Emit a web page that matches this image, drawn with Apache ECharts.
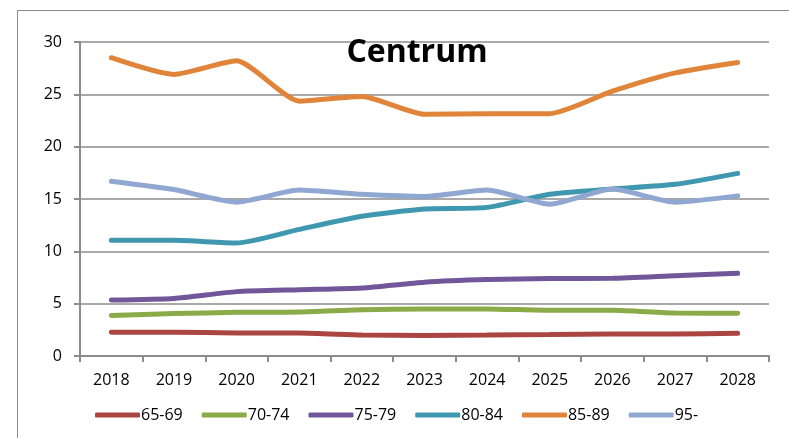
<!DOCTYPE html>
<html>
<head>
<meta charset="utf-8">
<script src="https://cdn.jsdelivr.net/npm/echarts@6/dist/echarts.min.js"></script>
<style>
  html, body { margin: 0; padding: 0; background: #fff; }
  #chart { width: 789px; height: 438px; }
  #frame { position: absolute; left: 17px; top: 10px; width: 800px; height: 500px; border: 1px solid #8c8c8c; box-sizing: border-box; pointer-events: none; }
</style>
</head>
<body>
<div id="chart"></div>
<div id="frame"></div>
<script>
// years on the x axis
const years = ['2018', '2019', '2020', '2021', '2022', '2023', '2024', '2025', '2026', '2027', '2028'];

// age groups
const age6569 = [2.26, 2.28, 2.2, 2.2, 2.0, 1.97, 2.0, 2.05, 2.1, 2.1, 2.17];
const age7074 = [3.88, 4.05, 4.17, 4.2, 4.42, 4.5, 4.5, 4.37, 4.37, 4.1, 4.08];
const age7579 = [5.35, 5.5, 6.15, 6.33, 6.5, 7.05, 7.3, 7.4, 7.42, 7.67, 7.9];
const age8084 = [11.05, 11.05, 10.8, 12.1, 13.35, 14.05, 14.2, 15.45, 15.95, 16.4, 17.45];
const age8589 = [28.5, 26.9, 28.2, 24.35, 24.8, 23.1, 23.15, 23.15, 25.3, 27.05, 28.05];
const age95 = [16.7, 15.9, 14.7, 15.85, 15.45, 15.25, 15.85, 14.5, 15.95, 14.7, 15.3];

const names = ['65-69', '70-74', '75-79', '80-84', '85-89', '95-'];
const colors = ['#ab4542', '#8aab48', '#71579a', '#3f98b0', '#e0843a', '#8fa7d1'];
const values = [age6569, age7074, age7579, age8084, age8589, age95];

const chart = echarts.init(document.getElementById('chart'));

const series = names.map((name, i) => ({
  name: name,
  type: 'line',
  data: values[i],
  smooth: 0.2,
  showSymbol: false,
  symbol: 'none',
  lineStyle: { width: 5, color: colors[i], cap: 'round' },
  itemStyle: { color: colors[i] }
}));

chart.setOption({
  animation: false,
  textStyle: { fontFamily: 'Open Sans' },
  title: {
    text: 'Centrum',
    left: 412,
    top: 32,
    textAlign: 'center',
    textStyle: { fontSize: 32, fontWeight: 'bold', color: '#000', fontFamily: 'Open Sans' }
  },
  legend: {
    data: names,
    left: 90,
    top: 402,
    icon: 'roundRect',
    itemWidth: 45,
    itemHeight: 5,
    itemGap: 19,
    textStyle: { fontSize: 16, color: '#000', padding: [0, 0, 0, -4] }
  },
  grid: { left: 80, right: 20, top: 42, bottom: 82 },
  xAxis: {
    type: 'category',
    data: years,
    boundaryGap: true,
    axisLine: { lineStyle: { color: '#8c8c8c', width: 2 } },
    axisTick: { show: true, length: 6, alignWithLabel: false, lineStyle: { color: '#8c8c8c', width: 2 } },
    axisLabel: { fontSize: 16, color: '#000', margin: 16 }
  },
  yAxis: {
    type: 'value',
    min: 0,
    max: 30,
    interval: 5,
    axisLine: { show: true, lineStyle: { color: '#8c8c8c', width: 2 } },
    axisTick: { show: true, length: 6, lineStyle: { color: '#8c8c8c', width: 2 } },
    axisLabel: { fontSize: 16, color: '#000', margin: 18 },
    splitLine: { lineStyle: { color: '#8c8c8c', width: 1.5 } }
  },
  series: series
});
</script>
</body>
</html>
